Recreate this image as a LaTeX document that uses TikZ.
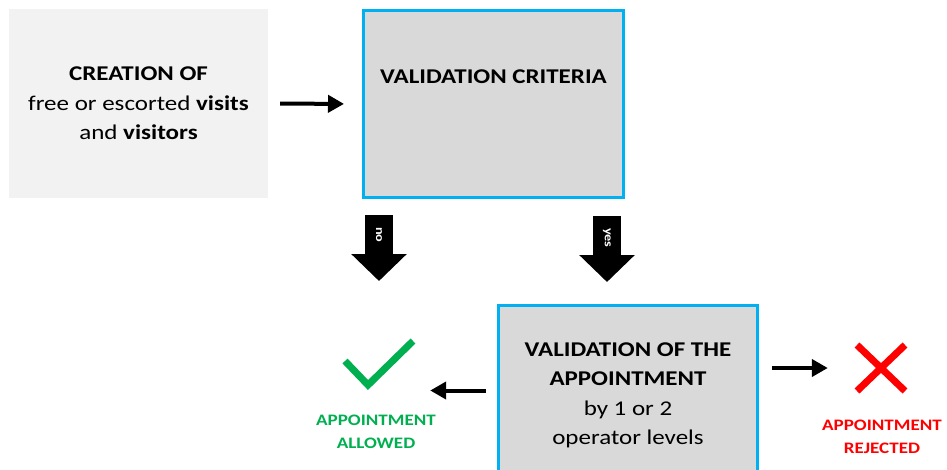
\documentclass[tikz,border=0pt]{standalone}
\usepackage{fontspec}
\setmainfont{Carlito}[FakeStretch=1.19]
\usetikzlibrary{arrows.meta}
\definecolor{paleback}{HTML}{F2F2F2}
\definecolor{boxgray}{HTML}{D9D9D9}
\definecolor{skyline}{HTML}{00B0F0}
\definecolor{okgreen}{HTML}{00B050}
\definecolor{kored}{HTML}{FF0000}

\begin{document}
\begin{tikzpicture}[x=1pt,y=-1pt]
  \tikzstyle{box}=[rectangle,inner sep=0pt,align=center,font=\fontsize{21}{29.5}\selectfont]
  \tikzstyle{framed}=[box,fill=boxgray,draw=skyline,line width=3pt]
  \tikzstyle{arr}=[line width=4pt,-{Triangle[length=16pt,width=17pt]}]
  \tikzstyle{fatarr}=[line width=28pt,-{Triangle[length=27pt,width=54pt]}]
  \tikzstyle{armlbl}=[sloped,text=white,font=\fontsize{12}{12}\selectfont\bfseries]
  \tikzstyle{result}=[align=center,font=\fontsize{16}{23}\selectfont\bfseries]
  \clip (0,0) rectangle (947,469);
  \node[box,fill=paleback,minimum width=259pt,minimum height=189pt] (crea) at (138.5,103.5)
    {\textbf{CREATION OF}\\free or escorted \textbf{visits}\\and \textbf{visitors}};
  \node[framed,minimum width=260pt,minimum height=187pt] (crit) at (493.5,104) {};
  \node[box,anchor=base] (crittxt) at ([yshift=-74pt]crit.north) {\textbf{VALIDATION CRITERIA}};
  \node[framed,minimum width=259pt,minimum height=170pt] (appr) at (628,390.5) {};
  \node[box] (apprtxt) at ([yshift=-91.5pt]appr.north)
    {\textbf{VALIDATION OF THE}\\\textbf{APPOINTMENT}\\by 1 or 2\\operator levels};
  % allowed / rejected marks
  \node[minimum width=72pt,minimum height=48pt,inner sep=0pt] (okmark) at (379,365) {};
  \node[minimum width=52pt,minimum height=50pt,inner sep=0pt] (nomark) at (881,368) {};
  \draw[okgreen,line width=7pt] ([shift={(-34,-4)}]okmark.center) -- ([shift={(-11,20)}]okmark.center)
    -- ([shift={(34,-24)}]okmark.center);
  \draw[kored,line width=7pt] ([shift={(-24,-23)}]nomark.center) -- ([shift={(24,23)}]nomark.center)
    ([shift={(24,-23)}]nomark.center) -- ([shift={(-24,23)}]nomark.center);
  \node[result,text=okgreen] (oktxt) at (376,431.5) {APPOINTMENT\\ALLOWED};
  \node[result,text=kored] (notxt) at (882,436.5) {APPOINTMENT\\REJECTED};
  % connectors
  \draw[arr,shorten <=12pt,shorten >=18pt] (crea.east) -- (crit.west);
  \coordinate (nogo) at (379,281);
  \draw[fatarr] ([yshift=-16pt]crit.south -| okmark) -- node[armlbl,pos=0.3] {no} (nogo);
  \draw[fatarr] ([xshift=113.5pt,yshift=-17pt]crit.south) -- node[armlbl,pos=0.33] {yes} ([xshift=-21pt,yshift=22pt]appr.north);
  \draw[arr,shorten <=11pt,shorten >=15pt] (appr.west) -- (okmark.east |- appr.west);
  \draw[arr,shorten <=13pt,shorten >=27pt] (appr.east |- nomark) -- (nomark.west);
\end{tikzpicture}
\end{document}
